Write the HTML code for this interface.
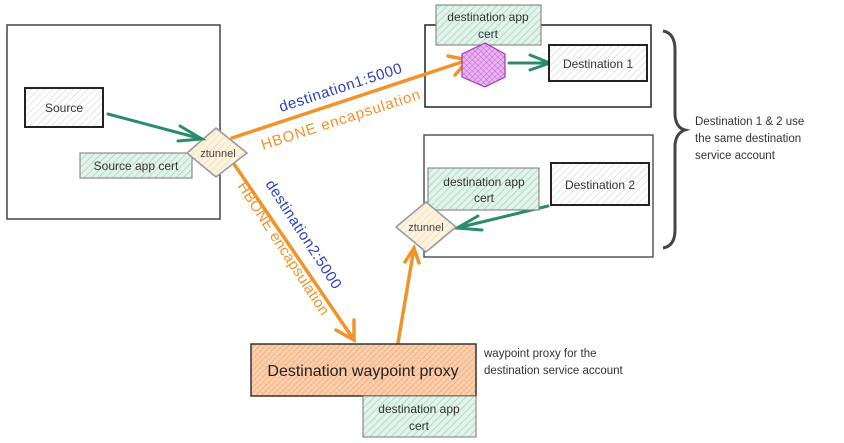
<!DOCTYPE html>
<html><head><meta charset="utf-8"><style>
html,body{margin:0;padding:0;background:#fff;}
svg{display:block;font-family:"Liberation Sans",sans-serif;}
</style></head><body>
<svg width="844" height="443" viewBox="0 0 844 443" xmlns="http://www.w3.org/2000/svg">
<defs>
<pattern id="hg" width="5" height="5" patternUnits="userSpaceOnUse" patternTransform="rotate(45)"><rect width="5" height="5" fill="#fff"/><line x1="0" y1="0" x2="0" y2="5" stroke="#ccc" stroke-width="1"/></pattern>
<pattern id="ht" width="5" height="5" patternUnits="userSpaceOnUse" patternTransform="rotate(45)"><rect width="5" height="5" fill="#e3f3ec"/><line x1="0" y1="0" x2="0" y2="5" stroke="#8fcfb3" stroke-width="1.2"/></pattern>
<pattern id="hy" width="5" height="5" patternUnits="userSpaceOnUse" patternTransform="rotate(45)"><rect width="5" height="5" fill="#fdf3e0"/><line x1="0" y1="0" x2="0" y2="5" stroke="#f3d7a4" stroke-width="1.2"/></pattern>
<pattern id="ho" width="4" height="4" patternUnits="userSpaceOnUse" patternTransform="rotate(45)"><rect width="4" height="4" fill="#fbd2b2"/><line x1="0" y1="0" x2="0" y2="4" stroke="#f29a5e" stroke-width="1.2"/><line x1="0" y1="0" x2="4" y2="0" stroke="#f6b487" stroke-width="0.8"/></pattern>
<pattern id="hp" width="4" height="4" patternUnits="userSpaceOnUse" patternTransform="rotate(45)"><rect width="4" height="4" fill="#e9b6f2"/><line x1="0" y1="0" x2="0" y2="4" stroke="#c55fd6" stroke-width="1"/><line x1="0" y1="0" x2="4" y2="0" stroke="#c55fd6" stroke-width="1"/></pattern>
</defs>
<g fill="none" stroke="#444" stroke-width="1.5">
<rect x="7" y="25" width="213" height="194"/>
<rect x="425" y="25" width="226" height="82" stroke="#222"/>
<rect x="424" y="135" width="229" height="122" stroke="#555"/>
</g>
<rect x="25" y="88" width="78" height="39" fill="url(#hg)" stroke="#222" stroke-width="2"/>
<text x="64" y="112" font-size="12" text-anchor="middle" fill="#333">Source</text>
<rect x="80" y="153" width="112" height="25" fill="url(#ht)" stroke="#777" stroke-width="1"/>
<text x="136" y="170" font-size="12" text-anchor="middle" fill="#333">Source app cert</text>
<g stroke="#f0932b" stroke-width="3.5" fill="none" stroke-linecap="round">
<line x1="232" y1="138" x2="468" y2="60"/>
<path d="M448 56 L468 60 L455 75"/>
<line x1="234" y1="164" x2="354" y2="340"/>
<path d="M336 330 L354 340 L354 320"/>
<line x1="398" y1="343" x2="414" y2="248"/>
<path d="M405 262 L414 248 L419 263"/>
</g>
<polygon points="187,153 216,128 247,153 216,177" fill="url(#hy)" stroke="#999" stroke-width="1.5"/>
<text x="218" y="157" font-size="11" text-anchor="middle" fill="#444">ztunnel</text>
<g stroke="#2b8c6a" stroke-width="3" fill="none" stroke-linecap="round">
<line x1="108" y1="114" x2="202" y2="139"/>
<path d="M180 126 L202 139 L178 141"/>
<line x1="509" y1="63" x2="550" y2="63"/>
<path d="M530 55 L550 63 L530 70"/>
<line x1="548" y1="206" x2="457" y2="228"/>
<path d="M478 216 L457 228 L482 230"/>
</g>
<rect x="436" y="5" width="105" height="40" fill="url(#ht)" stroke="#777" stroke-width="1"/>
<text x="488" y="21" font-size="12" text-anchor="middle" fill="#333">destination app</text>
<text x="488" y="38" font-size="12" text-anchor="middle" fill="#333">cert</text>
<polygon points="485,43 505,54 505,77 485,87 462,77 462,54" fill="url(#hp)" stroke="#9c3bb0" stroke-width="1.2"/>
<rect x="549" y="45" width="98" height="36" fill="url(#hg)" stroke="#222" stroke-width="2"/>
<text x="598" y="68" font-size="12" text-anchor="middle" fill="#333">Destination 1</text>
<rect x="428" y="168" width="111" height="42" fill="url(#ht)" stroke="#777" stroke-width="1"/>
<text x="484" y="186" font-size="12" text-anchor="middle" fill="#333">destination app</text>
<text x="484" y="202" font-size="12" text-anchor="middle" fill="#333">cert</text>
<rect x="551" y="163" width="98" height="42" fill="url(#hg)" stroke="#222" stroke-width="2"/>
<text x="600" y="189" font-size="12" text-anchor="middle" fill="#333">Destination 2</text>
<polygon points="396,227 426,202 456,227 426,252" fill="url(#hy)" stroke="#999" stroke-width="1.5"/>
<text x="426" y="231" font-size="11" text-anchor="middle" fill="#444">ztunnel</text>
<path d="M663 31 Q675 33 675 50 L675 115 Q676 128 685 130 Q676 133 675 145 L675 230 Q675 246 663 248" fill="none" stroke="#444" stroke-width="3"/>
<text font-size="11.5" fill="#333"><tspan x="695" y="125">Destination 1 &amp; 2 use</tspan><tspan x="695" y="142">the same destination</tspan><tspan x="695" y="159">service account</tspan></text>
<text transform="translate(281,112) rotate(-18)" font-size="15" letter-spacing="0.6" fill="#2a3fbf">destination1:5000</text>
<text transform="translate(263,150) rotate(-18)" font-size="15" letter-spacing="0.9" fill="#f0932b">HBONE encapsulation</text>
<text transform="translate(265,184) rotate(57)" font-size="15" letter-spacing="0.5" fill="#2a3fbf">destination2:5000</text>
<text transform="translate(237,186) rotate(57)" font-size="15" letter-spacing="0.3" fill="#f0932b">HBONE encapsulation</text>
<rect x="251" y="344" width="225" height="52" fill="url(#ho)" stroke="#333" stroke-width="1.5"/>
<text x="363" y="376" font-size="16" text-anchor="middle" fill="#222">Destination waypoint proxy</text>
<rect x="363" y="396" width="113" height="41" fill="url(#ht)" stroke="#777" stroke-width="1"/>
<text x="419" y="413" font-size="12" text-anchor="middle" fill="#333">destination app</text>
<text x="419" y="430" font-size="12" text-anchor="middle" fill="#333">cert</text>
<text font-size="11.5" fill="#333"><tspan x="484" y="357">waypoint proxy for the</tspan><tspan x="484" y="374">destination service account</tspan></text>
</svg>
</body></html>
